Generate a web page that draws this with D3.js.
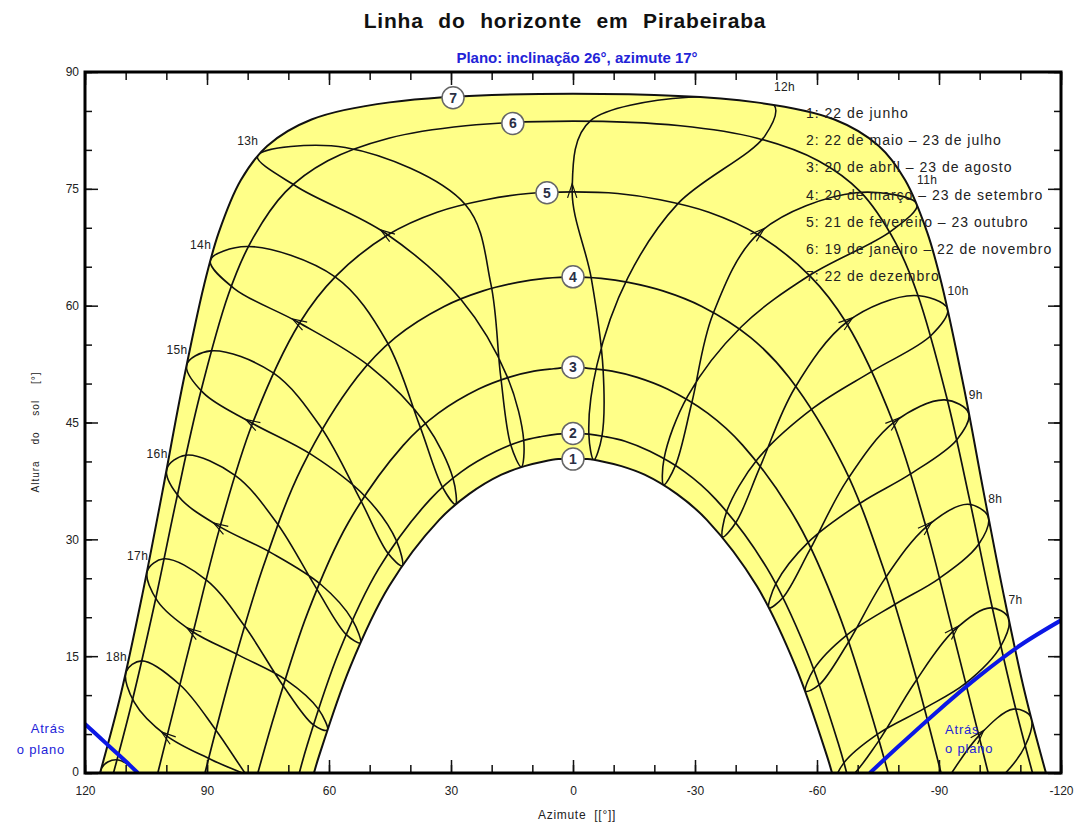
<!DOCTYPE html>
<html><head><meta charset="utf-8">
<script src="https://cdn.jsdelivr.net/npm/d3@7"></script>
<style>
body{margin:0;background:#fff;}
text{font-family:"Liberation Sans",Arial,sans-serif;}
</style></head>
<body><svg id="c" width="1081" height="825"></svg>
<script>
// ---------- data (azimuth °, altitude °) ----------
// hour lines: points ordered 22/12, 19/01, 21/02, 20/03, 20/04, 22/05, 22/06, 23/07, 23/08, 23/09, 23/10, 22/11
const hourDates = ["22 dez","19 jan","21 fev","20 mar","20 abr","22 mai","22 jun","23 jul","23 ago","23 set","23 out","22 nov"];
const hour06 = [[-112.6,7.2],[-111.2,3.5],[-103.0,-1.7],[-93.0,-5.1],[-81.4,-8.2],[-72.9,-11.3],[-70.3,-13.7],[-73.8,-13.5],[-81.4,-9.3],[-90.7,-1.9],[-100.0,4.9],[-108.3,8.2]];
const hour07 = [[-107.1,19.9],[-105.2,16.3],[-96.5,11.5],[-86.4,8.3],[-74.9,5.0],[-66.6,1.3],[-64.4,-1.3],[-67.7,-0.8],[-74.9,3.9],[-83.9,11.5],[-93.7,18.3],[-102.6,21.2]];
const hour08 = [[-102.1,32.9],[-99.8,29.4],[-90.1,25.0],[-79.3,21.7],[-67.3,17.7],[-59.2,13.3],[-57.2,10.5],[-60.5,11.3],[-67.5,16.6],[-76.5,24.8],[-87.1,31.7],[-97.1,34.5]];
const hour09 = [[-97.3,46.2],[-94.4,42.8],[-83.0,38.4],[-70.8,34.7],[-58.0,29.7],[-49.9,24.3],[-48.2,21.2],[-51.6,22.5],[-58.2,28.6],[-67.4,37.6],[-79.1,45.1],[-91.4,47.9]];
const hour10 = [[-92.1,59.6],[-88.1,56.2],[-73.6,51.6],[-59.2,46.9],[-45.4,40.3],[-37.8,33.6],[-36.8,30.3],[-40.1,32.2],[-46.0,39.3],[-54.5,49.4],[-67.6,58.0],[-83.9,61.3]];
const hour11 = [[-84.6,73.0],[-78.3,69.6],[-58.2,63.9],[-41.4,57.3],[-28.2,48.4],[-22.4,40.4],[-22.3,37.0],[-25.2,39.5],[-29.2,47.5],[-34.4,58.9],[-45.9,69.4],[-69.6,74.5]];
const hour12 = [[-49.4,85.8],[-47.2,81.8],[-25.8,73.1],[-13.5,63.6],[-5.9,52.4],[-3.9,43.5],[-5.1,40.2],[-7.1,43.2],[-7.4,51.8],[-4.5,63.5],[0.2,74.9],[-4.4,83.8]];
const hour13 = [[77.6,79.2],[56.0,80.3],[26.5,73.0],[20.2,62.8],[17.8,51.0],[15.3,42.1],[12.7,39.3],[12.1,42.6],[16.1,50.8],[27.4,60.7],[46.1,69.3],[68.0,75.3]];
const hour14 = [[89.2,65.8],[80.2,67.6],[58.5,63.7],[45.8,55.4],[37.7,44.6],[32.1,36.7],[28.9,34.5],[29.5,37.8],[36.2,44.8],[50.0,52.2],[67.7,57.9],[83.3,62.2]];
const hour15 = [[95.0,52.4],[89.1,54.2],[73.8,51.4],[62.0,44.4],[52.3,35.1],[45.5,28.2],[42.0,26.6],[43.4,29.8],[51.1,35.5],[64.4,40.9],[79.2,45.0],[90.9,48.8]];
const hour16 = [[99.9,39.0],[95.2,40.8],[83.1,38.2],[72.7,32.0],[63.1,23.7],[55.8,17.8],[52.3,16.7],[54.2,19.6],[62.0,24.2],[74.3,28.3],[87.1,31.7],[96.8,35.4]];
const hour17 = [[104.7,25.9],[100.6,27.5],[90.2,24.8],[80.8,18.9],[71.4,11.3],[63.9,6.2],[60.4,5.5],[62.6,8.2],[70.4,11.9],[82.1,15.1],[93.7,18.2],[102.2,22.1]];
const hour18 = [[109.9,13.0],[106.1,14.4],[96.6,11.3],[87.8,5.5],[78.3,-1.7],[70.5,-6.2],[67.0,-6.6],[69.4,-4.1],[77.4,-1.0],[88.9,1.7],[100.0,4.8],[107.9,9.1]];
const hour19 = [[116.0,0.6],[112.1,1.7],[103.1,-1.9],[94.4,-7.9],[84.7,-15.0],[76.3,-19.1],[72.6,-19.2],[75.3,-16.9],[83.8,-14.3],[95.6,-11.8],[106.8,-8.2],[114.3,-3.4]];
const hourNames = ["6h","7h","8h","9h","10h","11h","12h","13h","14h","15h","16h","17h","18h","19h"];
const hourLabelShown = [false,true,true,true,true,true,true,true,true,true,true,true,true,false];

// date curves
const curve1 = [[-63.7,0],[-62.5,2.1],[-54.8,13.6],[-45.2,24.0],[-32.9,32.5],[-25.6,35.8],[-17.6,38.3],[-11.9,39.4],[-7.2,40.0],[-3.6,40.3],[0,40.3],[3.6,40.3],[7.2,40.0],[11.9,39.4],[17.6,38.3],[25.6,35.8],[32.9,32.5],[45.2,24.0],[54.8,13.6],[62.5,2.1],[63.7,0]];
const curve2 = [[-67.3,0],[-65.3,3.7],[-57.5,15.6],[-47.7,26.3],[-35.0,35.2],[-27.4,38.7],[-18.9,41.3],[-12.8,42.6],[-7.7,43.2],[-3.9,43.5],[0,43.6],[3.9,43.5],[7.7,43.2],[12.8,42.6],[18.9,41.3],[27.4,38.7],[35.0,35.2],[47.7,26.3],[57.5,15.6],[65.3,3.7],[67.3,0]];
const curve3 = [[-77.5,0],[-73.1,8.0],[-65.3,20.5],[-55.3,32.1],[-41.7,42.1],[-33.1,46.2],[-23.2,49.3],[-15.8,50.8],[-9.6,51.6],[-4.8,51.9],[0,52.1],[4.8,51.9],[9.6,51.6],[15.8,50.8],[23.2,49.3],[33.1,46.2],[41.7,42.1],[55.3,32.1],[65.3,20.5],[73.1,8.0],[77.5,0]];
const curve4 = [[-90.5,0],[-83.7,13.5],[-76.1,26.6],[-66.7,39.2],[-53.1,50.8],[-43.7,55.9],[-31.7,59.9],[-22.1,61.9],[-13.6,63.0],[-6.9,63.5],[0,63.7],[6.9,63.5],[13.6,63.0],[22.1,61.9],[31.7,59.9],[43.7,55.9],[53.1,50.8],[66.7,39.2],[76.1,26.6],[83.7,13.5],[90.5,0]];
const curve5 = [[-102.1,0],[-99.8,4.8],[-93.4,18.1],[-86.8,31.6],[-78.8,44.9],[-67.2,57.8],[-58.3,63.8],[-45.5,69.1],[-33.4,72.0],[-21.4,73.6],[-11.0,74.4],[0,74.6],[11.0,74.4],[21.4,73.6],[33.4,72.0],[45.5,69.1],[58.3,63.8],[67.2,57.8],[78.8,44.9],[86.8,31.6],[93.4,18.1],[99.8,4.8],[102.1,0]];
const curve6 = [[-113.0,0],[-108.6,8.8],[-102.9,21.7],[-97.6,34.9],[-91.9,48.2],[-84.7,61.5],[-79.3,68.1],[-70.7,74.6],[-60.3,78.6],[-45.3,81.5],[-26.4,83.1],[0,83.7],[26.4,83.1],[45.3,81.5],[60.3,78.6],[70.7,74.6],[79.3,68.1],[84.7,61.5],[91.9,48.2],[97.6,34.9],[102.9,21.7],[108.6,8.8],[113.0,0]];
const curve7 = [[-116.3,0],[-111.2,10.1],[-105.9,22.9],[-101.0,36.0],[-96.2,49.3],[-90.7,62.7],[-87.1,69.4],[-81.7,76.1],[-75.2,80.5],[-64.3,83.9],[-45.1,86.1],[0,87.2],[45.1,86.1],[64.3,83.9],[75.2,80.5],[81.7,76.1],[87.1,69.4],[90.7,62.7],[96.2,49.3],[101.0,36.0],[105.9,22.9],[111.2,10.1],[116.3,0]];
const curveNumbers = ["1","2","3","4","5","6","7"];
const curveMarkers = [[0,40.3],[0,43.6],[0,52.1],[0,63.7],[6.4,74.5],[14.8,83.4],[29.5,86.7]];
const legendLabels = ["1: 22 de junho","2: 22 de maio \u2013 23 de julho","3: 20 de abril \u2013 23 de agosto","4: 20 de mar\u00e7o \u2013 23 de setembro","5: 21 de fevereiro \u2013 23 outubro","6: 19 de janeiro \u2013 22 de novembro","7: 22 de dezembro"];

// plane (behind-the-plane limit)
const planeLeft = [[120,6.3],[117.5,5.1],[115,3.9],[112.5,2.7],[110,1.5],[107,0]];
const planeRight = [[-73,0],[-80,3.4],[-90,8.1],[-100,12.5],[-110,16.4],[-120,19.6]];

// axes
const xMajorTicks = [120,90,60,30,0,-30,-60,-90,-120];
const xMinorTicks = [120,110,100,90,80,70,60,50,40,30,20,10,0,-10,-20,-30,-40,-50,-60,-70,-80,-90,-100,-110,-120];
const yMajorTicks = [0,15,30,45,60,75,90];
const yMinorTicks = [0,5,10,15,20,25,30,35,40,45,50,55,60,65,70,75,80,85,90];

// ---------- drawing ----------
const svg = d3.select("#c");
const L=85, R=1061, T=72, B=773;
const x = d3.scaleLinear().domain([120,-120]).range([L,R]);
const y = d3.scaleLinear().domain([0,90]).range([B,T]);
const line = d3.line().x(d=>x(d[0])).y(d=>y(d[1])).curve(d3.curveCatmullRom.alpha(0.5));
const loop = d3.line().x(d=>x(d[0])).y(d=>y(d[1])).curve(d3.curveCatmullRomClosed.alpha(0.5));

const defs = svg.append("defs");
defs.append("clipPath").attr("id","plot").append("rect").attr("x",L).attr("y",T).attr("width",R-L).attr("height",B-T);
const bandPath = line(curve7) + line(curve1.slice().reverse()).replace(/^M/,"L") + "Z";
defs.append("clipPath").attr("id","band").append("path").attr("d",bandPath);

// title
svg.append("text").attr("x",565).attr("y",28).attr("text-anchor","middle")
  .style("font-size","21px").style("font-weight","bold").style("letter-spacing","0.8px").style("word-spacing","8px")
  .attr("fill","#111").text("Linha do horizonte em Pirabeiraba");
svg.append("text").attr("x",577).attr("y",63).attr("text-anchor","middle")
  .style("font-size","15px").style("font-weight","bold").attr("fill","#2323d8")
  .text("Plano: inclina\u00e7\u00e3o 26\u00b0, azimute 17\u00b0");

// band
svg.append("path").attr("d",bandPath).attr("fill","#ffff88").attr("stroke","none");

// hour lines
const hourSeries = [hour06,hour07,hour08,hour09,hour10,hour11,hour12,hour13,hour14,hour15,hour16,hour17,hour18,hour19];
const gh = svg.append("g").attr("clip-path","url(#band)");
hourSeries.forEach(pts=>{
  gh.append("path").attr("d",loop(pts)).attr("fill","none").attr("stroke","#111").attr("stroke-width",1.6);
});

// date curves
const gc = svg.append("g").attr("clip-path","url(#plot)");
[curve1,curve2,curve3,curve4,curve5,curve6,curve7].forEach((c,i)=>{
  gc.append("path").attr("d",line(c)).attr("fill","none").attr("stroke","#111").attr("stroke-width",(i===0||i===6)?2:1.7);
});

// arrows (at 23 Oct point, toward 22 Nov)
const ga = svg.append("g");
hourSeries.forEach((pts,i)=>{
  const p = pts[10];
  if (p[1] < 1 || i===13) return;
  const a = pts[9], b = pts[11];
  let dx = x(b[0])-x(a[0]), dy = y(b[1])-y(a[1]);
  const n = Math.hypot(dx,dy); dx/=n; dy/=n;
  const tx = x(p[0])+dx*6, ty = y(p[1])+dy*6;
  const ang = 18*Math.PI/180, len = 15;
  const b1 = [tx - len*(dx*Math.cos(ang) - dy*Math.sin(ang)), ty - len*(dx*Math.sin(ang) + dy*Math.cos(ang))];
  const b2 = [tx - len*(dx*Math.cos(-ang) - dy*Math.sin(-ang)), ty - len*(dx*Math.sin(-ang) + dy*Math.cos(-ang))];
  ga.append("path").attr("d",`M${b1[0]},${b1[1]}L${tx},${ty}L${b2[0]},${b2[1]}`)
    .attr("fill","none").attr("stroke","#111").attr("stroke-width",1.2);
});

// plane limit (blue)
const gp = svg.append("g").attr("clip-path","url(#plot)");
[planeLeft,planeRight].forEach(c=>{
  gp.append("path").attr("d",line(c)).attr("fill","none").attr("stroke","#0b17e6").attr("stroke-width",4);
});
svg.append("text").attr("x",65).attr("y",733).attr("text-anchor","end").style("font-size","13px").style("letter-spacing","0.8px").attr("fill","#2323d8").text("Atr\u00e1s");
svg.append("text").attr("x",65).attr("y",754).attr("text-anchor","end").style("font-size","13px").style("letter-spacing","0.8px").attr("fill","#2323d8").text("o plano");
svg.append("text").attr("x",945).attr("y",734).attr("text-anchor","start").style("font-size","13px").style("letter-spacing","0.8px").attr("fill","#2323d8").text("Atr\u00e1s");
svg.append("text").attr("x",945).attr("y",753).attr("text-anchor","start").style("font-size","13px").style("letter-spacing","0.8px").attr("fill","#2323d8").text("o plano");

// hour labels (next to the 22 Dec point)
hourSeries.forEach((pts,i)=>{
  if (!hourLabelShown[i]) return;
  const p = pts[0];
  const west = p[0] > 0;
  const up = west ? 11 : (hourNames[i]==="11h" ? 20 : 14);
  svg.append("text").attr("x", x(p[0]) + (west? 1 : 0)).attr("y", y(p[1]) - up)
    .attr("text-anchor", west? "end" : "start")
    .style("font-size","12px").style("letter-spacing","0.4px").attr("fill","#222").text(hourNames[i]);
});

// date curve markers
curveMarkers.forEach((m,i)=>{
  const g = svg.append("g").attr("transform",`translate(${x(m[0])},${y(m[1])})`);
  g.append("circle").attr("r",11).attr("fill","#fff").attr("stroke","#666").attr("stroke-width",1.5);
  g.append("text").attr("y",5).attr("text-anchor","middle").style("font-size","14px").style("font-weight","bold").attr("fill","#2a2f45").text(curveNumbers[i]);
});

// legend
legendLabels.forEach((t,i)=>{
  svg.append("text").attr("x",806).attr("y",118 + i*27.2).style("font-size","14px").style("letter-spacing","1px").attr("fill","#222").text(t);
});

// axes
function tickAxis(axis, ticks, size, fmt){ return axis.tickValues(ticks).tickSize(size).tickFormat(fmt); }
const gx1 = svg.append("g").attr("transform",`translate(0,${B})`).call(tickAxis(d3.axisBottom(x), xMinorTicks, -8, ""));
const gx2 = svg.append("g").attr("transform",`translate(0,${B})`).call(tickAxis(d3.axisBottom(x), xMajorTicks, -13, d=>d).tickPadding(13));
const gx3 = svg.append("g").attr("transform",`translate(0,${T})`).call(tickAxis(d3.axisTop(x), xMinorTicks, -8, ""));
const gx4 = svg.append("g").attr("transform",`translate(0,${T})`).call(tickAxis(d3.axisTop(x), xMajorTicks, -13, ""));
const gy1 = svg.append("g").attr("transform",`translate(${L},0)`).call(tickAxis(d3.axisLeft(y), yMinorTicks, -7, ""));
const gy2 = svg.append("g").attr("transform",`translate(${L},0)`).call(tickAxis(d3.axisLeft(y), yMajorTicks, -13, d=>d).tickPadding(6));
const gy3 = svg.append("g").attr("transform",`translate(${R},0)`).call(tickAxis(d3.axisRight(y), yMinorTicks, -7, ""));
const gy4 = svg.append("g").attr("transform",`translate(${R},0)`).call(tickAxis(d3.axisRight(y), yMajorTicks, -13, ""));
[gx1,gx2,gx3,gx4,gy1,gy2,gy3,gy4].forEach(g=>{
  g.select(".domain").remove();
  g.selectAll(".tick line").attr("stroke","#111").attr("stroke-width",1.5);
  g.selectAll(".tick text").style("font-family","'Liberation Sans',Arial,sans-serif").style("font-size","12px").attr("fill","#222");
});
gy2.selectAll(".tick").filter(d=>d===0).select("text").attr("dy","0.2em");

// frame
svg.append("rect").attr("x",L).attr("y",T).attr("width",R-L).attr("height",B-T).attr("fill","none").attr("stroke","#000").attr("stroke-width",3);

// axis titles
svg.append("text").attr("x",577).attr("y",819).attr("text-anchor","middle").style("font-size","12px").style("letter-spacing","0.7px").style("word-spacing","4px").attr("fill","#222").text("Azimute  [[\u00b0]]");
svg.append("text").attr("transform","translate(39,432) rotate(-90)").attr("text-anchor","middle").style("font-size","10px").style("letter-spacing","1px").style("word-spacing","12px").attr("fill","#222").text("Altura do sol [\u00b0]");
</script></body></html>
